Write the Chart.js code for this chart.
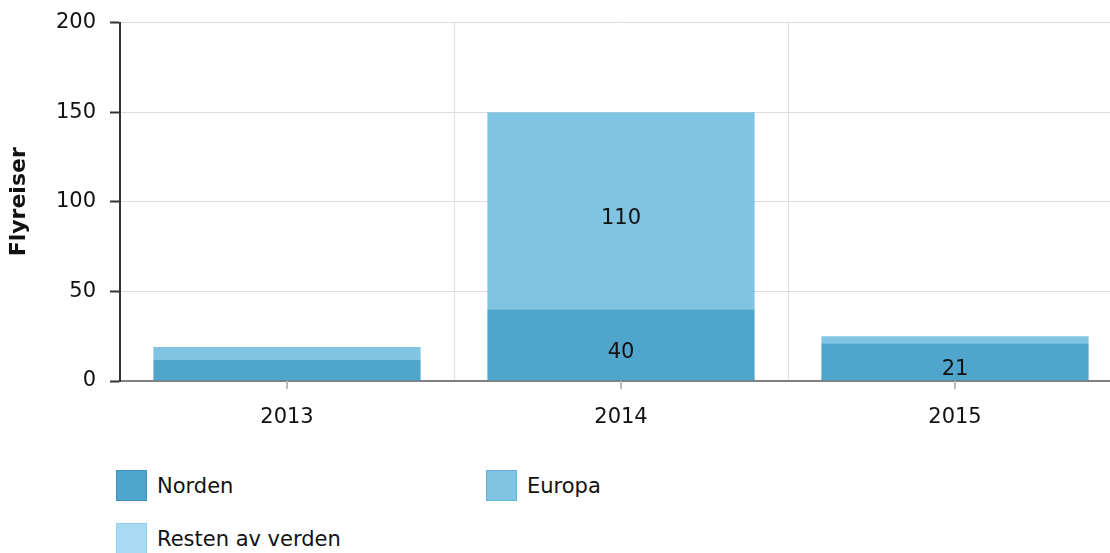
<!DOCTYPE html>
<html>
<head>
<meta charset="utf-8">
<script src="https://cdn.jsdelivr.net/npm/chart.js@4"></script>
<style>
  body { margin: 0; background: #fff; font-family: "DejaVu Sans", Verdana, sans-serif; }
  #wrap { position: relative; width: 1110px; height: 553px; overflow: hidden; }
  #chartBox { position: absolute; left: 0; top: -4px; width: 1122px; height: 449px; }
  #legend { position: absolute; left: 116px; top: 470px; width: 900px; }
  .item { position: absolute; display: flex; align-items: center; font-size: 21px; color: #111; white-space: nowrap; }
  .box { width: 31px; height: 31px; margin-right: 10px; box-sizing: border-box; border: 1px solid; }
</style>
</head>
<body>
<div id="wrap">
  <div id="chartBox"><canvas id="myChart"></canvas></div>
  <div id="legend"></div>
</div>
<script>
const years = ['2013', '2014', '2015'];
const norden = [12, 40, 21];
const europa = [7, 110, 4];
const resten = [0, 0, 0];
const yTicks = [0, 50, 100, 150, 200];

const seriesNames = ['Norden', 'Europa', 'Resten av verden'];
const fills = ['rgba(61,155,199,0.9)', 'rgba(114,188,224,0.9)', 'rgba(158,214,240,0.9)'];
const legendFills = ['#50a5cd', '#80c3e3', '#a8daf2'];
const legendBorders = ['#3a92c0', '#62b3dc', '#92cdec'];

const fontFam = '"DejaVu Sans", Verdana, sans-serif';

// labels inside bars (only when the segment is big enough)
const barLabels = {
  id: 'barLabels',
  afterDatasetsDraw(chart) {
    const ctx = chart.ctx;
    ctx.save();
    ctx.font = '21px ' + fontFam;
    ctx.fillStyle = '#111';
    ctx.textAlign = 'center';
    ctx.textBaseline = 'middle';
    chart.data.datasets.forEach((ds, di) => {
      chart.getDatasetMeta(di).data.forEach((bar, i) => {
        const v = ds.data[i];
        if (v < 20) return;
        const mid = (bar.y + bar.base) / 2;
        ctx.fillText(v, bar.x, mid + 8);
      });
    });
    ctx.restore();
  }
};

// tick marks under the x axis at category centres
const xTickMarks = {
  id: 'xTickMarks',
  afterDraw(chart) {
    const ctx = chart.ctx;
    const x = chart.scales.x;
    ctx.save();
    ctx.strokeStyle = '#bbb';
    ctx.lineWidth = 2;
    years.forEach((y, i) => {
      const px = Math.round(x.getPixelForValue(i));
      ctx.beginPath();
      ctx.moveTo(px, x.top);
      ctx.lineTo(px, x.top + 8);
      ctx.stroke();
    });
    ctx.restore();
  }
};

const ctx = document.getElementById('myChart').getContext('2d');
new Chart(ctx, {
  type: 'bar',
  data: {
    labels: years,
    datasets: [norden, europa, resten].map((d, i) => ({
      label: seriesNames[i],
      data: d,
      backgroundColor: fills[i],
      borderWidth: 0,
      categoryPercentage: 0.8,
      barPercentage: 1
    }))
  },
  options: {
    responsive: true,
    maintainAspectRatio: false,
    animation: false,
    layout: { padding: { top: 18, right: 0, left: 0, bottom: 0 } },
    plugins: { legend: { display: false }, tooltip: { enabled: false } },
    scales: {
      x: {
        stacked: true,
        grid: { color: '#e0e0e0', drawTicks: false, offset: true },
        border: { color: '#808080', width: 2 },
        ticks: { color: '#111', font: { family: fontFam, size: 21 }, padding: 24 },
        afterFit(scale) { scale.height = 64; }
      },
      y: {
        stacked: true,
        min: 0,
        max: 200,
        afterBuildTicks(scale) { scale.ticks = yTicks.map(v => ({ value: v })); },
        grid: { color: '#dddddd', tickLength: 10, tickColor: '#333', tickWidth: 2 },
        border: { color: '#333', width: 2 },
        ticks: { color: '#111', font: { family: fontFam, size: 21 }, padding: 14 },
        title: { display: true, text: 'Flyreiser', color: '#111', font: { family: fontFam, size: 22, weight: 'bold' }, padding: { top: 6, bottom: 0 } },
        afterFit(scale) { scale.width = 120; }
      }
    }
  },
  plugins: [barLabels, xTickMarks]
});

// html legend in a two-column grid
const legend = document.getElementById('legend');
seriesNames.forEach((name, i) => {
  const el = document.createElement('div');
  el.className = 'item';
  el.style.left = (i % 2) * 370 + 'px';
  el.style.top = Math.floor(i / 2) * 53 + 'px';
  el.innerHTML = '<span class="box" style="background:' + legendFills[i] + ';border-color:' + legendBorders[i] + '"></span>' + name;
  legend.appendChild(el);
});
</script>
</body>
</html>
